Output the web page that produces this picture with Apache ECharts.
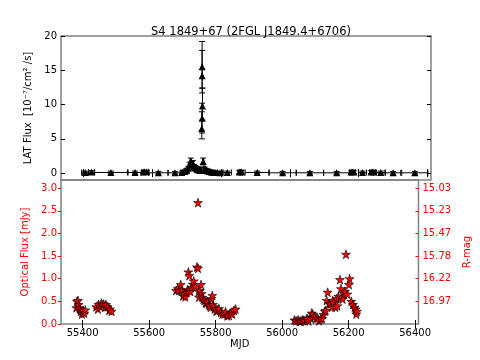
<!DOCTYPE html>
<html>
<head>
<meta charset="UTF-8">
<title>S4 1849+67</title>
<script src="https://cdn.jsdelivr.net/npm/echarts@6/dist/echarts.min.js"></script>
<style>
  html, body { margin: 0; padding: 0; background: #fff; }
  #main { width: 480px; height: 360px; }
</style>
</head>
<body>
<div id="main"></div>
<script>
// LAT light curve (flux in 1e-7 ph/cm2/s), errors and half bin width in days
var latMjd  = [55405, 55424, 55480, 55550, 55574, 55584, 55618, 55666, 55686, 55695,
               55700, 55705, 55709, 55712, 55715, 55718, 55721, 55724, 55727, 55731,
               55734, 55738, 55741, 55744, 55745, 55745, 55745, 55746, 55748, 55752,
               55756, 55761, 55766, 55771, 55776, 55785, 55797, 55818, 55853, 55860,
               55905, 55979, 56058, 56136, 56178, 56186, 56211, 56236, 56244, 56264,
               56300, 56363];
var latFlux = [0.10, 0.15, 0.10, 0.10, 0.15, 0.20, 0.05, 0.05, 0.10, 0.25,
               0.40, 0.70, 1.20, 1.70, 1.30, 1.45, 0.95, 0.80, 0.70, 0.50,
               0.60, 0.40, 0.50, 6.50, 15.50, 8.00, 14.20, 9.80, 1.70, 0.60,
               0.40, 0.30, 0.25, 0.15, 0.10, 0.10, 0.05, 0.10, 0.15, 0.15,
               0.10, 0.05, 0.05, 0.05, 0.15, 0.15, 0.10, 0.15, 0.15, 0.10,
               0.05, 0.05];
var latErrLo = [0.2, 0.2, 0.2, 0.2, 0.2, 0.2, 0.2, 0.2, 0.2, 0.2,
                0.3, 0.3, 0.4, 0.5, 0.4, 0.4, 0.3, 0.3, 0.3, 0.3,
                0.3, 0.3, 0.3, 1.5, 3.1, 2.15, 2.5, 2.05, 0.5, 0.3,
                0.3, 0.2, 0.2, 0.2, 0.2, 0.2, 0.2, 0.2, 0.2, 0.2,
                0.2, 0.2, 0.2, 0.2, 0.2, 0.2, 0.2, 0.2, 0.2, 0.2,
                0.2, 0.2];
var latErrHi = [0.2, 0.2, 0.2, 0.2, 0.2, 0.2, 0.2, 0.2, 0.2, 0.2,
                0.3, 0.3, 0.4, 0.5, 0.4, 0.4, 0.3, 0.3, 0.3, 0.3,
                0.3, 0.3, 0.3, 2.45, 3.7, 2.2, 3.7, 2.6, 0.5, 0.3,
                0.3, 0.2, 0.2, 0.2, 0.2, 0.2, 0.2, 0.2, 0.2, 0.2,
                0.2, 0.2, 0.2, 0.2, 0.2, 0.2, 0.2, 0.2, 0.2, 0.2,
                0.2, 0.2];
var latBin  = [10, 9, 48, 20, 4, 6, 28, 20, 3, 3,
               2, 2, 2, 2, 2, 2, 2, 2, 2, 2,
               2, 2, 2, 0.5, 0.5, 0.5, 0.5, 0.5, 2, 2,
               2, 3, 3, 3, 3, 5, 8, 12, 4, 4,
               35, 40, 40, 38, 4, 4, 12, 4, 4, 12,
               22, 38];

// optical R-band flux (mJy)
var optMjd  = [55381, 55383, 55386, 55388, 55390, 55392, 55395, 55398, 55400, 55402, 55405, 55408,
               55441, 55446, 55448, 55453, 55456, 55460, 55463, 55468, 55470, 55475, 55480, 55482, 55487,
               55681, 55686, 55690, 55695, 55698, 55702, 55705, 55709, 55712, 55716, 55718, 55719,
               55721, 55724, 55727, 55731, 55734, 55739, 55744, 55747, 55747, 55749, 55750, 55753,
               55756, 55758, 55760, 55763, 55766, 55770, 55773, 55776, 55779, 55782, 55785, 55787,
               55790, 55792, 55794, 55797, 55802, 55806, 55810, 55816, 55820, 55826, 55830, 55835,
               55840, 55845, 55850, 55855, 55860,
               56037, 56042, 56048, 56052, 56056, 56060, 56063, 56068, 56073, 56077, 56079, 56085,
               56089, 56092, 56097, 56102, 56107, 56111, 56116, 56120, 56124, 56128, 56131, 56134,
               56137, 56141, 56145, 56150, 56152, 56155, 56160, 56164, 56166, 56169, 56174, 56177,
               56178, 56182, 56186, 56189, 56192, 56196, 56201, 56203, 56208, 56213, 56218, 56221,
               56223, 56225];
var optFlux = [0.36, 0.50, 0.52, 0.43, 0.36, 0.33, 0.28, 0.22, 0.27, 0.30, 0.24, 0.31,
               0.38, 0.33, 0.43, 0.38, 0.46, 0.42, 0.44, 0.37, 0.43, 0.38, 0.30, 0.33, 0.28,
               0.74, 0.78, 0.74, 0.87, 0.74, 0.62, 0.67, 0.60, 0.70, 0.76, 1.15, 0.74,
               1.07, 0.72, 0.80, 0.88, 0.95, 0.83, 1.26, 1.23, 2.68, 0.72, 0.59, 0.74,
               0.87, 0.67, 0.59, 0.55, 0.52, 0.47, 0.46, 0.50, 0.43, 0.40, 0.37, 0.56,
               0.63, 0.43, 0.38, 0.33, 0.28, 0.30, 0.34, 0.26, 0.22, 0.22, 0.27, 0.18,
               0.19, 0.24, 0.22, 0.30, 0.33,
               0.09, 0.07, 0.09, 0.06, 0.06, 0.08, 0.09, 0.07, 0.11, 0.12, 0.07, 0.13,
               0.24, 0.22, 0.16, 0.12, 0.13, 0.07, 0.11, 0.12, 0.21, 0.28, 0.30, 0.52,
               0.70, 0.45, 0.44, 0.37, 0.52, 0.48, 0.37, 0.56, 0.40, 0.61, 0.98, 0.78,
               0.59, 0.55, 0.67, 0.72, 1.54, 0.66, 0.87, 1.00, 0.50, 0.43, 0.37, 0.33,
               0.22, 0.28];

var mjdTicks = [55400, 55600, 55800, 56000, 56200, 56400];
var latTicks = [0, 5, 10, 15, 20];
var optTicks = [0.0, 0.5, 1.0, 1.5, 2.0, 2.5, 3.0];
var rmagTicks = [0.5, 1.0, 1.5, 2.0, 2.5, 3.0];
var rmagLabels = ['16.97', '16.22', '15.78', '15.47', '15.23', '15.03'];

var FONT = 'DejaVu Sans';
var FRAME = '#808080';
var STAR = 'path://M50,0 L61,35 L98,35 L68,57 L79,91 L50,70 L21,91 L32,57 L2,35 L39,35 Z';

var latData = latMjd.map(function (m, i) {
  return [m, latFlux[i], latErrLo[i], latErrHi[i], latBin[i]];
});
var optData = optMjd.map(function (m, i) { return [m, optFlux[i]]; });

function renderErr(params, api) {
  var x = api.value(0), y = api.value(1);
  var lo = api.value(2), hi = api.value(3), dx = api.value(4);
  var pL = api.coord([x - dx, y]), pR = api.coord([x + dx, y]);
  var pT = api.coord([x, y + hi]), pB = api.coord([x, y - lo]);
  var cap = 3;
  var st = { stroke: '#000', lineWidth: 1 };
  function ln(x1, y1, x2, y2) {
    return { type: 'line', shape: { x1: x1, y1: y1, x2: x2, y2: y2 }, style: st };
  }
  return {
    type: 'group',
    children: [
      ln(pL[0], pL[1], pR[0], pR[1]),
      ln(pL[0], pL[1] - cap, pL[0], pL[1] + cap),
      ln(pR[0], pR[1] - cap, pR[0], pR[1] + cap),
      ln(pT[0], pT[1], pB[0], pB[1]),
      ln(pT[0] - cap, pT[1], pT[0] + cap, pT[1]),
      ln(pB[0] - cap, pB[1], pB[0] + cap, pB[1])
    ]
  };
}

// x axis helper: ticks only or ticks + labels
function mjdAxis(grid, pos, labels) {
  return {
    type: 'value', gridIndex: grid, position: pos, min: 55335, max: 56410,
    axisLine: { show: false }, splitLine: { show: false },
    axisTick: { show: true, inside: true, length: 4, customValues: mjdTicks,
                lineStyle: { color: '#000' } },
    axisLabel: { show: labels, customValues: mjdTicks, color: '#000', fontFamily: FONT,
                 fontSize: 10, margin: 4, formatter: function (v) { return String(v); } },
    name: labels ? 'MJD' : '', nameLocation: 'middle', nameGap: 15,
    nameTextStyle: { color: '#000', fontFamily: FONT, fontSize: 10 }
  };
}

var chart = echarts.init(document.getElementById('main'), null, { renderer: 'canvas' });
chart.setOption({
  animation: false,
  backgroundColor: '#fff',
  title: {
    text: 'S4 1849+67 (2FGL J1849.4+6706)', left: 246, top: 21, textAlign: 'center',
    textStyle: { fontFamily: FONT, fontSize: 11.5, fontWeight: 'normal', color: '#000' }
  },
  grid: [
    { left: 61, right: 49, top: 36, height: 144, show: true, borderColor: FRAME, borderWidth: 1.5 },
    { left: 61, right: 49, top: 180, height: 144, show: true, borderColor: FRAME, borderWidth: 1.5 }
  ],
  xAxis: [
    mjdAxis(0, 'bottom', false),
    mjdAxis(0, 'top', false),
    mjdAxis(1, 'bottom', true),
    mjdAxis(1, 'top', false)
  ],
  yAxis: [
    {
      type: 'value', gridIndex: 0, position: 'left', min: -1, max: 20,
      axisLine: { show: false }, splitLine: { show: false },
      axisTick: { inside: true, length: 4, customValues: latTicks, lineStyle: { color: '#000' } },
      axisLabel: { customValues: latTicks, color: '#000', fontFamily: FONT, fontSize: 10, margin: 4 },
      name: 'LAT Flux  [10⁻⁷/cm² /s]', nameLocation: 'middle', nameGap: 20, nameRotate: 90,
      nameTextStyle: { color: '#000', fontFamily: FONT, fontSize: 10 }
    },
    {
      type: 'value', gridIndex: 0, position: 'right', min: -1, max: 20,
      axisLine: { show: false }, splitLine: { show: false },
      axisTick: { inside: true, length: 4, customValues: latTicks, lineStyle: { color: '#000' } },
      axisLabel: { show: false }
    },
    {
      type: 'value', gridIndex: 1, position: 'left', min: 0, max: 3.18,
      axisLine: { show: false }, splitLine: { show: false },
      axisTick: { inside: false, length: 3, customValues: optTicks, lineStyle: { color: '#ff0000' } },
      axisLabel: { customValues: optTicks, color: '#ff0000', fontFamily: FONT, fontSize: 10, margin: 4,
                   formatter: function (v) { return v.toFixed(1); } },
      name: 'Optical Flux [mJy]', nameLocation: 'middle', nameGap: 26, nameRotate: 90,
      nameTextStyle: { color: '#ff0000', fontFamily: FONT, fontSize: 10 }
    },
    {
      type: 'value', gridIndex: 1, position: 'right', min: 0, max: 3.18,
      axisLine: { show: false }, splitLine: { show: false },
      axisTick: { inside: true, length: 3, customValues: rmagTicks, lineStyle: { color: '#ff0000' } },
      axisLabel: { customValues: rmagTicks, color: '#ff0000', fontFamily: FONT, fontSize: 10, margin: 4,
                   formatter: function (v) {
                     var i = rmagTicks.indexOf(Math.round(v * 10) / 10);
                     return i < 0 ? '' : rmagLabels[i];
                   } },
      name: 'R-mag', nameLocation: 'middle', nameGap: 34, nameRotate: 90,
      nameTextStyle: { color: '#ff0000', fontFamily: FONT, fontSize: 10 }
    }
  ],
  series: [
    {
      type: 'custom', xAxisIndex: 0, yAxisIndex: 0, data: latData,
      renderItem: renderErr, silent: true, z: 2
    },
    {
      type: 'scatter', xAxisIndex: 0, yAxisIndex: 0, data: latData,
      symbol: 'triangle', symbolSize: 7, itemStyle: { color: '#000', opacity: 1 }, z: 3
    },
    {
      type: 'scatter', xAxisIndex: 2, yAxisIndex: 2, data: optData,
      symbol: STAR, symbolSize: 9,
      itemStyle: { color: '#ff0000', borderColor: '#000', borderWidth: 0.6, opacity: 1 }, z: 3
    }
  ]
});
</script>
</body>
</html>
